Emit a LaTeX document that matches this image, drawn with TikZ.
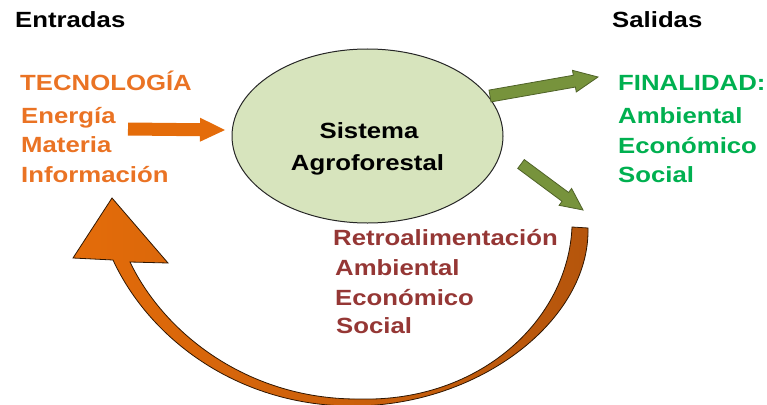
\documentclass[tikz,border=0pt]{standalone}
\usepackage{fontspec}
\setmainfont{Liberation Sans}[FakeStretch=1.17]
\usetikzlibrary{calc,shapes.geometric}

\definecolor{ellfill}{HTML}{D7E4BD}
\definecolor{arrowgreen}{HTML}{77933C}
\definecolor{arrowgreendk}{HTML}{4F6228}
\definecolor{orng}{HTML}{E46C0A}
\definecolor{orngdk}{HTML}{B5550C}
\definecolor{txtorange}{HTML}{EA7324}
\definecolor{txtgreen}{HTML}{00B050}
\definecolor{txtred}{HTML}{953735}

% block arrow: style, tail, tip, shaft half width, head half width, head length
\newcommand\blockarrow[6]{%
  \coordinate (ba-base) at ($(#3)!#6!(#2)$);
  \path[#1] ($(#2)!#4!90:(#3)$) -- ($(ba-base)!#4!90:(#3)$)
    -- ($(ba-base)!#5!90:(#3)$) -- (#3)
    -- ($(ba-base)!#5!-90:(#3)$) -- ($(ba-base)!#4!-90:(#3)$)
    -- ($(#2)!#4!-90:(#3)$) -- cycle;
}

\tikzset{
  lbl/.style={inner sep=0pt, anchor=base west,
    font=\fontsize{22}{26}\selectfont\bfseries},
  ctr/.style={lbl, anchor=base},
  inlbl/.style={lbl, text=txtorange},
  outlbl/.style={lbl, text=txtgreen},
  fblbl/.style={lbl, text=txtred},
  system/.style={ellipse, draw=black!85, line width=1pt, fill=ellfill,
    minimum width=271pt, minimum height=174pt, inner sep=0pt},
  inarrow/.style={fill=orng},
  outarrow/.style={fill=arrowgreen, draw=arrowgreendk, line width=0.8pt},
  fbarrow/.style={draw=black!80!orng, line width=0.8pt,
    left color=orng, middle color=orng, right color=orngdk},
}

\begin{document}
\begin{tikzpicture}[x=1pt,y=-1pt]
  \useasboundingbox (0,0) rectangle (767,404);
  \clip (0,0) rectangle (767,404);

  % headings
  \node[lbl] (entradas) at (15,28) {Entradas};
  \node[lbl] (salidas) at (612,28) {Salidas};

  % inputs
  \node[inlbl] (tec) at (20,90) {TECNOLOGÍA};
  \node[inlbl] (energia) at (21,123) {Energía};
  \node[inlbl] (materia) at (21,152.5) {Materia};
  \node[inlbl] (info) at (21,182) {Información};

  % outputs
  \node[outlbl] (fin) at (618,90) {FINALIDAD:};
  \node[outlbl] (oamb) at (618,123) {Ambiental};
  \node[outlbl] (oeco) at (618,153) {Económico};
  \node[outlbl] (osoc) at (618,182) {Social};

  % feedback
  \node[fblbl] (retro) at (333,245) {Retroalimentación};
  \node[fblbl] (ramb) at (335,275) {Ambiental};
  \node[fblbl] (reco) at (335,305) {Económico};
  \node[fblbl] (rsoc) at (336,333) {Social};

  % central system
  \node[system] (sis) at (367.5,136) {};
  \node[ctr] (sis1) at (369,138) {Sistema};
  \node[ctr] (sis2) at (367.5,170) {Agroforestal};

  % arrow ends
  \coordinate (in-tail) at (128,129);
  \coordinate (in-tip) at (225,130);
  \coordinate (out1-tail) at (490,96);
  \coordinate (out1-tip) at (598,77);
  \coordinate (out2-tail) at (521,164);
  \coordinate (out2-tip) at (583,210);

  \blockarrow{inarrow}{in-tail}{in-tip}{6.5pt}{12pt}{25pt}
  \blockarrow{outarrow}{out1-tail}{out1-tip}{6pt}{11pt}{24pt}
  \blockarrow{outarrow}{out2-tail}{out2-tip}{5.5pt}{10.5pt}{22pt}

  % feedback loop arrow
  \path[fbarrow]
    (588,228) .. controls (590,320) and (480,405) .. (355,406)
    .. controls (240,407) and (150,340) .. (113,260)
    -- (73,258) -- (112,198) -- (168,263) -- (130,262)
    .. controls (165,335) and (250,400) .. (360,399)
    .. controls (480,402) and (568,320) .. (572,227) -- cycle;
\end{tikzpicture}
\end{document}
